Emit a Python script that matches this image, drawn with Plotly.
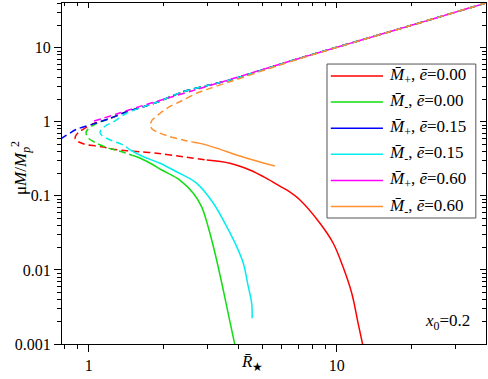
import numpy as np
import plotly.graph_objects as go

# values (log-log), dashed branch + solid branch per curve
red_dash_x = [40, 20, 7.1, 3.7, 2.4, 1.91, 1.66, 1.42, 1.22, 1.03, 0.966, 0.91, 0.885, 0.882, 0.90, 0.95, 0.995, 1.127, 1.256, 1.42, 1.61, 1.88, 2.40, 2.99]
red_dash_y = [40, 20, 7.2, 3.65, 2.54, 1.86, 1.59, 1.36, 1.11, 0.92, 0.82, 0.72, 0.64, 0.59, 0.545, 0.505, 0.485, 0.46, 0.425, 0.407, 0.394, 0.375, 0.337, 0.304]
red_x = [2.99, 3.71, 4.46, 5.21, 5.9, 6.28, 7.11, 8.56, 9.68, 10.6, 11.5, 12.2, 12.8]
red_y = [0.304, 0.275, 0.223, 0.172, 0.135, 0.120, 0.0878, 0.0426, 0.0229, 0.0110, 0.00483, 0.0019, 0.0009]

green_dash_x = [40, 20, 7.1, 3.7, 2.4, 1.91, 1.66, 1.42, 1.22, 1.08, 1.0, 0.975, 0.98, 0.995, 1.077, 1.20, 1.36, 1.50]
green_dash_y = [40, 20, 7.2, 3.65, 2.54, 1.86, 1.59, 1.36, 1.11, 0.95, 0.82, 0.72, 0.66, 0.60, 0.51, 0.44, 0.394, 0.35]
green_x = [1.50, 1.56, 1.77, 1.97, 2.33, 2.64, 2.85, 3.03, 3.23, 3.44, 3.65, 3.89]
green_y = [0.35, 0.337, 0.275, 0.223, 0.163, 0.108, 0.0713, 0.0383, 0.0168, 0.0066, 0.00259, 0.00095]

blue_dash_x = [0.77, 0.893, 1.03, 1.22, 1.42, 1.66, 1.91, 2.4, 3.7, 7.1, 20, 40]
blue_dash_y = [0.585, 0.79, 0.92, 1.11, 1.36, 1.59, 1.86, 2.54, 3.65, 7.2, 20, 40]
blue_x = []
blue_y = []

cyan_dash_x = [40, 20, 7.1, 3.7, 2.4, 1.91, 1.66, 1.42, 1.26, 1.18, 1.13, 1.11, 1.13, 1.22, 1.38, 1.47]
cyan_dash_y = [40, 20, 7.2, 3.65, 2.54, 1.86, 1.59, 1.30, 1.0, 0.90, 0.80, 0.72, 0.65, 0.567, 0.485, 0.415]
cyan_x = [1.47, 1.66, 1.94, 2.26, 2.72, 3.18, 3.60, 3.95, 4.20, 4.40, 4.54, 4.56]
cyan_y = [0.415, 0.337, 0.275, 0.211, 0.148, 0.0793, 0.0383, 0.0206, 0.0123, 0.00593, 0.00354, 0.00222]

magenta_dash_x = [1.05, 1.15, 1.34, 1.55, 1.77, 2.1, 2.6, 3.7, 7.1, 20, 40]
magenta_dash_y = [1.02, 1.12, 1.32, 1.55, 1.77, 2.1, 2.6, 3.7, 7.2, 20, 40]
magenta_x = []
magenta_y = []

orange_dash_x = [40, 20, 7.1, 5.0, 3.71, 3.08, 2.72, 2.33, 2.12, 1.94, 1.80, 1.77, 1.80, 1.88, 2.12, 2.40, 2.64]
orange_dash_y = [40, 20, 7.1, 4.85, 3.47, 2.82, 2.42, 1.86, 1.60, 1.30, 1.05, 0.90, 0.80, 0.73, 0.63, 0.567, 0.53]
orange_x = [2.64, 2.81, 3.28, 3.95, 4.75, 5.63]
orange_y = [0.53, 0.51, 0.44, 0.356, 0.295, 0.252]

labels = ["<i>M\u0304</i><sub>+</sub>, <i>\u0113</i>=0.00",
          "<i>M\u0304</i><sub>-</sub>, <i>\u0113</i>=0.00",
          "<i>M\u0304</i><sub>+</sub>, <i>\u0113</i>=0.15",
          "<i>M\u0304</i><sub>-</sub>, <i>\u0113</i>=0.15",
          "<i>M\u0304</i><sub>+</sub>, <i>\u0113</i>=0.60",
          "<i>M\u0304</i><sub>-</sub>, <i>\u0113</i>=0.60"]
colors = ["#ff0000", "#11dd11", "#0000ff", "#00eeee", "#ff00ff", "#ff9030"]

series = [
    (red_dash_x, red_dash_y, red_x, red_y),
    (green_dash_x, green_dash_y, green_x, green_y),
    (blue_dash_x, blue_dash_y, blue_x, blue_y),
    (cyan_dash_x, cyan_dash_y, cyan_x, cyan_y),
    (magenta_dash_x, magenta_dash_y, magenta_x, magenta_y),
    (orange_dash_x, orange_dash_y, orange_x, orange_y),
]

x_major = [1, 10]
x_minor = [0.8, 0.9, 2, 3, 4, 5, 6, 7, 8, 9, 20, 30]
y_major = [0.001, 0.01, 0.1, 1, 10]
y_major_text = ["0.001", "0.01", "0.1", "1", "10"]
y_minor = [m * d for d in [0.001, 0.01, 0.1, 1, 10] for m in range(2, 10)]

FONT = "Liberation Serif"

fig = go.Figure()
for (dx, dy, sx, sy), c in zip(series, colors):
    fig.add_trace(go.Scatter(x=dx, y=dy, mode="lines", showlegend=False,
                             line=dict(color=c, width=1.5, dash="7px,4px",
                                       shape="spline", smoothing=0.6)))
    if sx:
        fig.add_trace(go.Scatter(x=sx, y=sy, mode="lines", showlegend=False,
                                 line=dict(color=c, width=1.5,
                                           shape="spline", smoothing=1.0)))

# dummy trace so the mirrored (inside-tick) axes are drawn
fig.add_trace(go.Scatter(x=[None], y=[None], xaxis="x2", yaxis="y2",
                         showlegend=False, hoverinfo="skip"))

xr = [np.log10(0.78), np.log10(40)]
yr = [-3, np.log10(40)]

common = dict(type="log", showgrid=False, zeroline=False, linecolor="black",
              linewidth=1.3, tickcolor="black", tickwidth=1.2)

fig.update_layout(
    width=488, height=379,
    margin=dict(l=62, r=2, t=3, b=35),
    paper_bgcolor="white", plot_bgcolor="white",
    font=dict(family=FONT, size=16, color="black"),
    showlegend=False,
    xaxis=dict(**common, range=xr, showline=True, mirror=True, ticks="outside",
               ticklen=7, tickmode="array", tickvals=x_major, ticktext=["1", "10"],
               minor=dict(tickmode="array", tickvals=x_minor, ticks="outside",
                          ticklen=4, tickcolor="black", tickwidth=1)),
    yaxis=dict(**common, range=yr, showline=True, mirror=True, ticks="outside",
               ticklen=7, tickmode="array", tickvals=y_major, ticktext=y_major_text,
               minor=dict(tickmode="array", tickvals=y_minor, ticks="outside",
                          ticklen=4, tickcolor="black", tickwidth=1)),
    xaxis2=dict(**common, range=xr, overlaying="x", side="top", anchor="y",
                showline=False, ticks="inside", ticklen=5, showticklabels=False,
                tickmode="array", tickvals=x_major,
                minor=dict(tickmode="array", tickvals=x_minor, ticks="inside",
                           ticklen=3, tickcolor="black", tickwidth=1)),
    yaxis2=dict(**common, range=yr, overlaying="y", side="right", anchor="x",
                showline=False, ticks="inside", ticklen=6, showticklabels=False,
                tickmode="array", tickvals=y_major,
                minor=dict(tickmode="array", tickvals=y_minor, ticks="inside",
                           ticklen=4, tickcolor="black", tickwidth=1)),
)

# axis titles
fig.add_annotation(text="<i>R\u0304</i><sub>\u2605</sub>", xref="paper", yref="paper",
                   x=0.448, y=-0.055, xanchor="center", yanchor="middle",
                   showarrow=False, font=dict(size=17))
fig.add_annotation(text="\u03bc<i>M</i>/<i>M</i><sub><i>p</i></sub><sup>2</sup>", xref="paper",
                   yref="paper", x=-0.099, y=0.516, xanchor="center", yanchor="middle",
                   textangle=-90, showarrow=False, font=dict(size=17))
fig.add_annotation(text="<i>x</i><sub>0</sub>=0.2", xref="paper", yref="paper",
                   x=0.967, y=0.065, xanchor="right", yanchor="middle",
                   showarrow=False, font=dict(size=17))

# legend box drawn by hand (long sample lines like the original)
fig.add_shape(type="rect", xref="paper", yref="paper", x0=0.625, x1=0.976,
              y0=0.3695, y1=0.821, line=dict(color="#555555", width=1),
              fillcolor="white", layer="above")
for i, (lab, c) in enumerate(zip(labels, colors)):
    yp = (344 - (76 + 26.1 * i)) / 341
    fig.add_shape(type="line", xref="paper", yref="paper", x0=0.634, x1=0.757,
                  y0=yp, y1=yp, line=dict(color=c, width=1.5), layer="above")
    fig.add_annotation(text=lab, xref="paper", yref="paper", x=0.767, y=yp,
                       xanchor="left", yanchor="middle", showarrow=False,
                       font=dict(size=17))

fig.write_html("out.html", config={"displayModeBar": False},
               post_script="document.body.style.margin='0';")
